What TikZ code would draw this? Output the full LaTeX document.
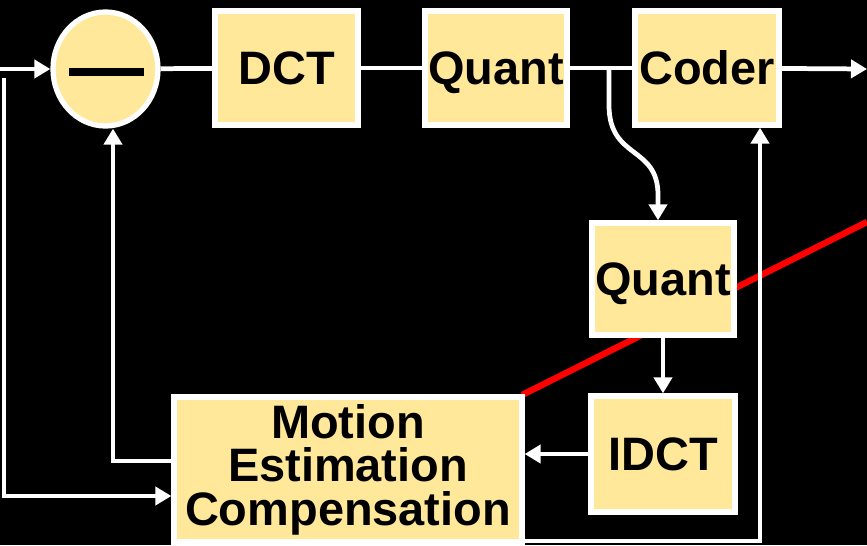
\documentclass[tikz,border=0pt]{standalone}
\usepackage{fontspec}
\setmainfont{Liberation Sans}
\usetikzlibrary{arrows.meta,positioning,calc,shapes.geometric}
\definecolor{CodecInk}{HTML}{000000}
\definecolor{CodecCream}{HTML}{FFE89A}
\definecolor{CodecWhite}{HTML}{FFFFFF}
\definecolor{CodecRed}{HTML}{FF0000}

\begin{document}
\begin{tikzpicture}[
  blk/.style={draw=CodecWhite,fill=CodecCream,line width=3pt,inner sep=0pt,text=CodecInk,align=center,font=\fontsize{26.7}{24.8}\selectfont\bfseries},
  wire/.style={draw=CodecWhite,line width=2.7pt},
  arr/.style={wire,-{Triangle[length=0.32cm,width=0.36cm]}}
]
\useasboundingbox (0,0) rectangle (17.34,10.9);
\fill[CodecInk] (0,0) rectangle (17.34,10.9);
\coordinate (redA) at (10.44,3.0);
\coordinate (redB) at (17.34,6.46);
\draw[CodecRed,line width=3.6pt] (redA) -- (redB);
\node[blk,ellipse,minimum width=2.1cm,minimum height=2.28cm] (sub) at (2.11,9.52) {};
\fill[CodecInk] ($(sub)+(-0.73,0.02)$) rectangle ($(sub)+(0.77,-0.14)$);
\node[blk,text depth=0pt,minimum width=2.86cm,minimum height=2.28cm] (dct) at (5.73,9.54) {DCT};
\node[blk,text depth=0pt,minimum width=2.84cm,minimum height=2.28cm] (qa) at (9.92,9.54) {Quant};
\node[blk,text depth=0pt,minimum width=2.88cm,minimum height=2.28cm] (coder) at (14.14,9.54) {Coder};
\node[blk,text depth=0pt,minimum width=2.84cm,minimum height=2.24cm] (qb) at (13.26,5.32) {Quant};
\node[blk,text depth=0pt,minimum width=2.88cm,minimum height=2.32cm] (idct) at (13.26,1.82) {IDCT};
\node[blk,minimum width=6.96cm,minimum height=2.9cm] (me) at (6.96,1.51) {Motion\\Estimation\\Compensation};
\coordinate (in) at (0,9.52);
\coordinate (out) at (17.34,9.52);
\coordinate (tap) at (12.18,9.52);
\coordinate (fbr) at (15.2,0.08);
\coordinate (fbl) at (2.26,1.68);
\coordinate (top) at (0.08,9.34);
\coordinate (fbo) at (0.08,0.98);
\draw[arr] (in) -- (sub);
\draw[wire] (sub) -- (dct);
\draw[wire] (dct) -- (qa);
\draw[wire] (qa) -- (coder);
\draw[arr] (coder) -- (out);
\draw[arr] (tap) -- (12.18,8.8) .. controls (12.18,7.7) and (13.16,8.0) .. (13.16,7.0) -- ([xshift=-0.1cm]qb.north);
\draw[arr] (qb) -- (idct);
\draw[arr] (idct.west) -- (idct.west -| me.east);
\draw[arr] (fbr -| me.east) -- (fbr) -- (fbr |- coder.south);
\draw[arr] (fbl -| me.west) -- (fbl) -- (fbl |- sub.south);
\draw[arr] (top) -- (fbo) -- (fbo -| me.west);
\end{tikzpicture}
\end{document}
